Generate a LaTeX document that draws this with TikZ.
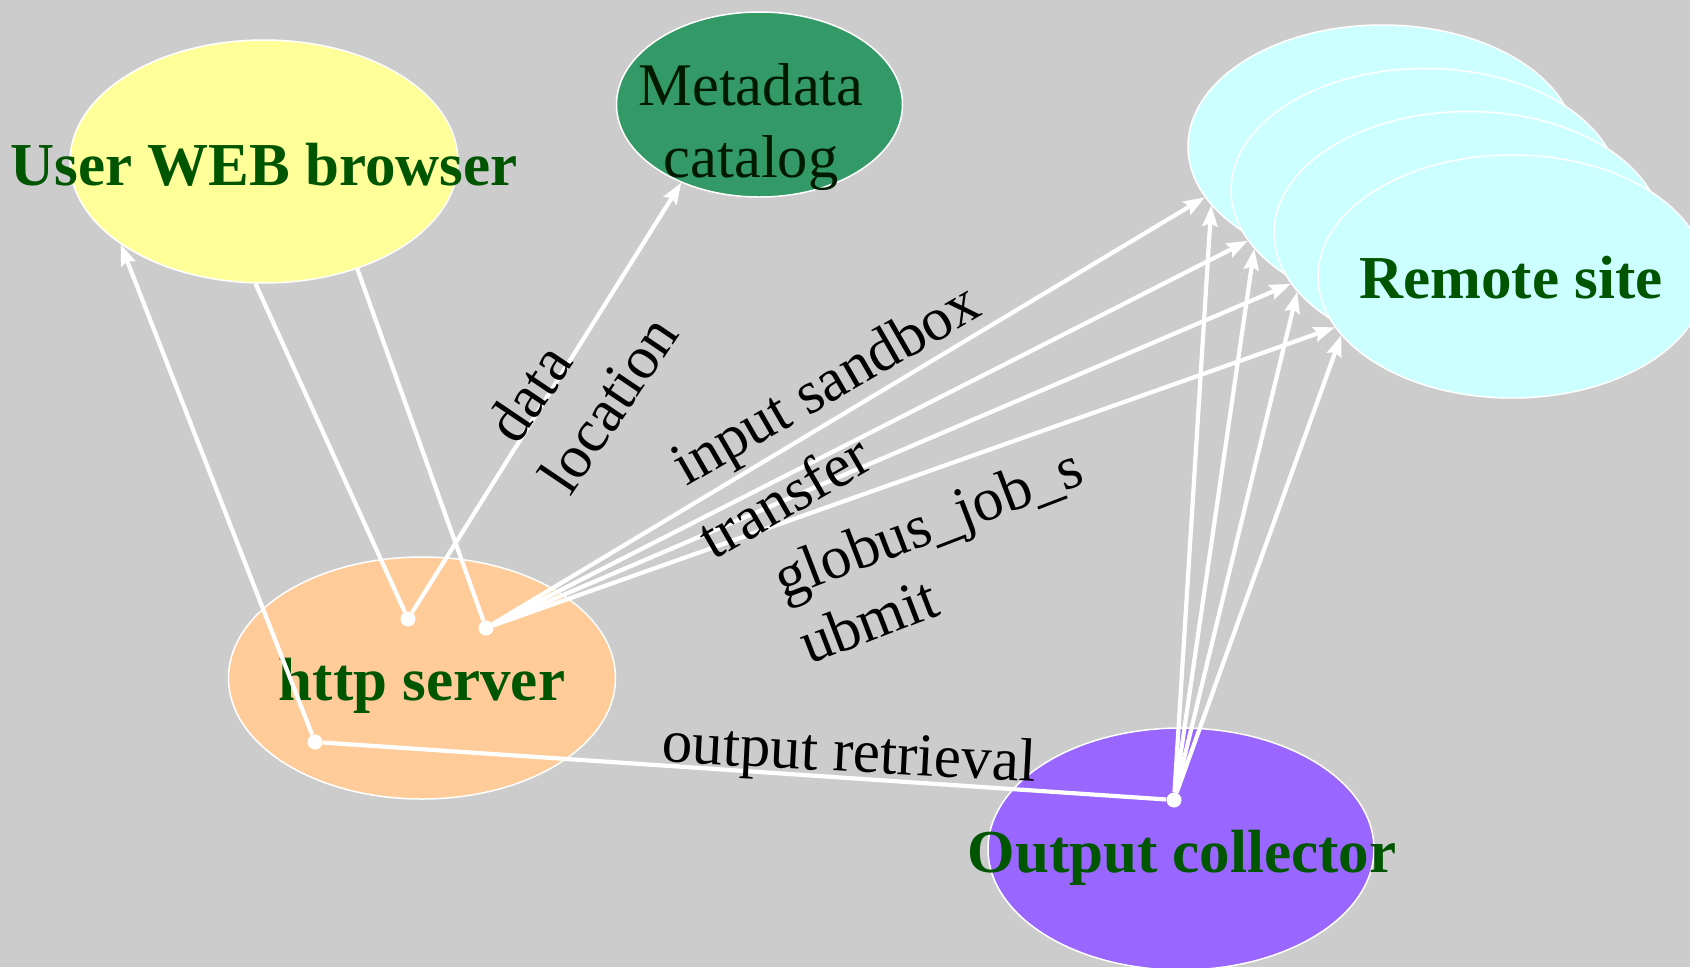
\documentclass[tikz,border=0pt]{standalone}
\usepackage{fontspec}
\setmainfont{Liberation Serif}
\usetikzlibrary{shapes.geometric,arrows.meta}
\definecolor{bg}{HTML}{CCCCCC}
\definecolor{yellowc}{HTML}{FFFF99}
\definecolor{metac}{HTML}{339966}
\definecolor{cyanc}{HTML}{CCFFFF}
\definecolor{peachc}{HTML}{FFCC99}
\definecolor{purplec}{HTML}{9966FF}
\definecolor{tgreen}{HTML}{005500}
\definecolor{metatext}{HTML}{001A00}
\begin{document}
\begin{tikzpicture}[x=1pt,y=-1pt,
  blob/.style={ellipse, draw=white, line width=1.5pt, inner sep=0pt,
               minimum width=388pt, minimum height=243pt},
  bigtext/.style={font=\fontsize{61}{72}\selectfont\bfseries, text=tgreen, inner sep=0pt},
  elabel/.style={font=\fontsize{61}{70}\selectfont, text=black, inner sep=0pt},
  conn/.style={draw=white, line width=4.2pt},
  arr/.style={conn, -{Stealth[length=21pt,width=15pt,inset=3pt]}},
  joint/.style={circle, fill=white, inner sep=0pt, minimum size=15pt}]
\useasboundingbox (0,0) rectangle (1690,967);
\fill[bg] (0,0) rectangle (1690,967);

% nodes
\node[blob, fill=yellowc] (browser) at (264,161.5) {};
\node[blob, fill=metac, minimum width=286pt, minimum height=185pt] (meta) at (759.5,104.5) {};
\node[blob, fill=cyanc] (r1) at (1382,146.5) {};
\node[blob, fill=cyanc] (r2) at (1425,190) {};
\node[blob, fill=cyanc] (r3) at (1468,233) {};
\node[blob, fill=cyanc] (r4) at (1512,276.5) {};
\node[blob, fill=peachc, minimum width=387pt, minimum height=242pt] (http) at (422,678) {};
\node[blob, fill=purplec, minimum width=386pt, minimum height=242pt] (coll) at (1181,849) {};

% texts
\node[bigtext, anchor=base] (browsertxt) at (264,185) {User WEB browser};
\node[font=\fontsize{60.5}{72}\selectfont, text=metatext, align=center, inner sep=0pt] (metatxt) at (751,127) {Metadata\\catalog};
\node[bigtext, anchor=base] (remotetxt) at (1511,298) {Remote site};
\node[bigtext, anchor=base] (httptxt) at (422,700) {http server};
\node[bigtext, anchor=base] (colltxt) at (1182,872) {Output collector};

% joints
\node[joint] (d1) at (408,619) {};
\node[joint] (d2) at (486,628) {};
\node[joint] (d3) at (315,742) {};
\node[joint] (d4) at (1174,800) {};

% connectors
\draw[conn] (browser.266.2) -- (d1);
\draw[conn] (browser.311.2) -- (d2);
\draw[arr] (d3) -- (browser.210.6);
\draw[arr] (d1) -- (meta.225.7);
\draw[arr] (d2) -- (r1.196);
\draw[arr] (d2) -- (r2.196);
\draw[arr] (d2) -- (r3.196);
\draw[arr] (d2) -- (r4.196);
\draw[conn] (d3) -- (d4);
\draw[arr] (d4) -- (r1.199);
\draw[arr] (d4) -- (r2.199);
\draw[arr] (d4) -- (r3.199);
\draw[arr] (d4) -- (r4.199);

% edge labels
\node[elabel, rotate=56] (lbldata) at (529,393) {data};
\node[elabel, rotate=56] (lblloc) at (608,404) {location};
\node[elabel, rotate=30] (lblinput) at (828,388) {input sandbox};
\node[elabel, rotate=30] (lbltransfer) at (784,496) {transfer};
\node[elabel, rotate=21] (lblglobus) at (930,528) {globus\_job\_s};
\node[elabel, rotate=21] (lblubmit) at (868,620) {ubmit};
\node[elabel, rotate=-3] (lblout) at (849,757) {output retrieval};
\end{tikzpicture}
\end{document}
